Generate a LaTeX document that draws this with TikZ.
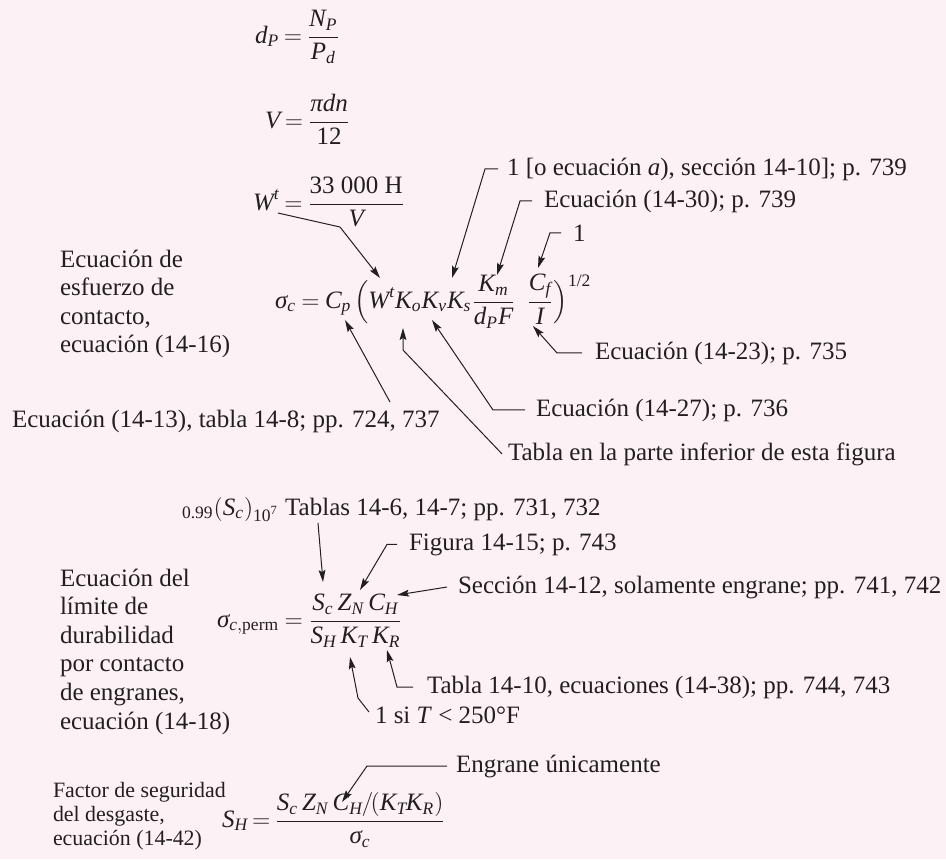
\documentclass[tikz,border=0pt]{standalone}
\usepackage{fontspec}
\usepackage{amsmath}
\setmainfont{Liberation Serif}
\usetikzlibrary{arrows.meta}
\definecolor{bgpink}{RGB}{252,242,246}
\definecolor{ink}{RGB}{35,31,32}
\newcommand{\mvar}[1]{\textit{#1}}
\begin{document}
\begin{tikzpicture}[x=0.5pt,y=-0.5pt,
  every node/.style={inner sep=0pt, outer sep=0pt, text=ink, font=\fontsize{12.5}{14.3}\selectfont},
  lbl/.style={anchor=base west},
  eq/.style={anchor=base west},
  small/.style={font=\fontsize{10.95}{12}\selectfont},
  ptr/.style={draw=ink, line width=0.5pt, -{Stealth[length=6pt,width=3.4pt,inset=1pt]}}]
\fill[bgpink] (0,0) rectangle (946,859);
\useasboundingbox (0,0) rectangle (946,859);

% equations
\node[eq] (eqd) at (255,43) {\thickmuskip=3.5mu$\displaystyle \mvar{d}_{\mvar{P}} = \frac{\mvar{N}_{\mvar{P}}}{\mvar{P}_{\mvar{d}}}$};
\node[eq] (eqV) at (265,128) {\thickmuskip=3.5mu$\displaystyle \mvar{V} = \frac{\mvar{π}\mvar{dn}}{\text{12}}$};
\node[eq] (eqW) at (253,210) {\thickmuskip=3.5mu$\displaystyle \mvar{W}^{\mvar{t}} = \frac{\text{33 000 H}}{\mvar{V}}$};
\node[eq] (eqs) at (275,308) {\thickmuskip=4mu$\displaystyle \mvar{σ}_{\mvar{c}} = \mvar{C}_{\mvar{p}}\mkern2mu\Big(\mvar{W}^{\mvar{t}}\mvar{K}_{\mvar{o}}\mvar{K}_{\mvar{v}}\mvar{K}_{\mvar{s}}\frac{\mvar{K}_{\mvar{m}}}{\mvar{d}_{\mvar{P}}\mvar{F}}\;\;\frac{\mvar{C}_{\mvar{f}}}{\mvar{I}}\Big)^{\text{1/2}}$};
\node[eq] (eqp) at (217,627) {\thickmuskip=4mu$\displaystyle \mvar{σ}_{\mvar{c},\text{perm}} = \frac{\mvar{S}_{\mvar{c}}\,\mvar{Z}_{\mvar{N}}\,\mvar{C}_{\mvar{H}}}{\mvar{S}_{\mvar{H}}\,\mvar{K}_{\mvar{T}}\,\mvar{K}_{\mvar{R}}}$};
\node[eq] (eqH) at (222,827) {\thickmuskip=3mu$\displaystyle \mvar{S}_{\mvar{H}} = \frac{\mvar{S}_{\mvar{c}}\,\mvar{Z}_{\mvar{N}}\,\mvar{C}_{\mvar{H}}\mkern-1mu/\mkern-2mu(\mvar{K}_{\mvar{T}}\mkern-1mu\mvar{K}_{\mvar{R}})}{\mvar{σ}_{\mvar{c}}}$};

% left descriptions
\node[lbl] (d1) at (60,267) {\vtop{\baselineskip=14.3pt\hbox{Ecuación de}\hbox{esfuerzo de}\hbox{contacto,}\hbox{ecuación (14-16)}}};
\node[lbl] (d2) at (60,586) {\vtop{\baselineskip=14.3pt\hbox{Ecuación del}\hbox{límite de}\hbox{durabilidad}\hbox{por contacto}\hbox{de engranes,}\hbox{ecuación (14-18)}}};
\node[lbl,small] (d3) at (53,797) {\vtop{\baselineskip=12.2pt\hbox{Factor de seguridad}\hbox{del desgaste,}\hbox{ecuación (14-42)}}};

% labels
\node[lbl] (l1) at (507,175) {1 [o ecuación \textit{a}), sección 14-10]; p. 739};
\node[lbl] (l2) at (544,207) {Ecuación (14-30); p. 739};
\node[lbl] (l3) at (573,241) {1};
\node[lbl] (l4) at (595,359) {Ecuación (14-23); p. 735};
\node[lbl] (l5) at (536,416) {Ecuación (14-27); p. 736};
\node[lbl] (l6) at (508,460) {Tabla en la parte inferior de esta figura};
\node[lbl] (l7) at (12,427) {Ecuación (14-13), tabla 14-8; pp. 724, 737};
\node[lbl] (l8) at (182,515) {${}_{\text{0.99}}(\mvar{S}_{\mvar{c}})_{\text{10}^{\text{7}}}$ Tablas 14-6, 14-7; pp. 731, 732};
\node[lbl] (l9) at (409,550) {Figura 14-15; p. 743};
\node[lbl] (l10) at (458,593) {Sección 14-12, solamente engrane; pp. 741, 742};
\node[lbl] (l11) at (427,693) {Tabla 14-10, ecuaciones (14-38); pp. 744, 743};
\node[lbl] (l12) at (375,723) {1 si \textit{T} < 250°F};
\node[lbl] (l13) at (456,772) {Engrane únicamente};

% arrow tips and free ends
\coordinate (tWt) at (380,278);
\coordinate (tKs) at (452,278);
\coordinate (tKm) at (497,275);
\coordinate (tCf) at (538,268);
\coordinate (tI)  at (533,326);
\coordinate (tKv) at (432,320);
\coordinate (tKo) at (403,328);
\coordinate (tCp) at (345,320);
\coordinate (tSc) at (323,582);
\coordinate (tZN) at (360,590);
\coordinate (tCH) at (397,595);
\coordinate (tKR) at (387,650);
\coordinate (tKT) at (350,657);
\coordinate (tCHb) at (342,802);
\coordinate (sWt) at (278,213);
\coordinate (sCp) at (390,402);
\coordinate (sSc) at (318,523);
\coordinate (sKT) at (369,712);

% connectors
\draw[ptr] (sWt) -- (340,227) -- (tWt);
\draw[ptr] ([xshift=-4.5pt]l1.west) -- ++(-13,0) -- (tKs);
\draw[ptr] ([xshift=-6pt]l2.west) -- ++(-12,0) -- (tKm);
\draw[ptr] ([xshift=-6pt]l3.west) -- ++(-11,0) -- (tCf);
\draw[ptr] ([xshift=-6.5pt]l4.west) -- ++(-25,0) -- (tI);
\draw[ptr] ([xshift=-5.5pt]l5.west) -- ++(-32,0) -- (tKv);
\draw[ptr] ([xshift=-3pt]l6.west) -- (403,350) -- (tKo);
\draw[ptr] (sCp) -- (tCp);
\draw[ptr] (sSc) -- (tSc);
\draw[ptr] ([xshift=-6pt]l9.west) -- ++(-10,0) -- (tZN);
\draw[ptr] ([xshift=-5.5pt]l10.west) -- (tCH);
\draw[ptr] ([xshift=-7pt]l11.west) -- ++(-16,0) -- (tKR);
\draw[ptr] (sKT) -- (358,698) -- (tKT);
\draw[ptr] ([xshift=-4.5pt]l13.west) -- ++(-80,0) -- (tCHb);
\end{tikzpicture}
\end{document}
